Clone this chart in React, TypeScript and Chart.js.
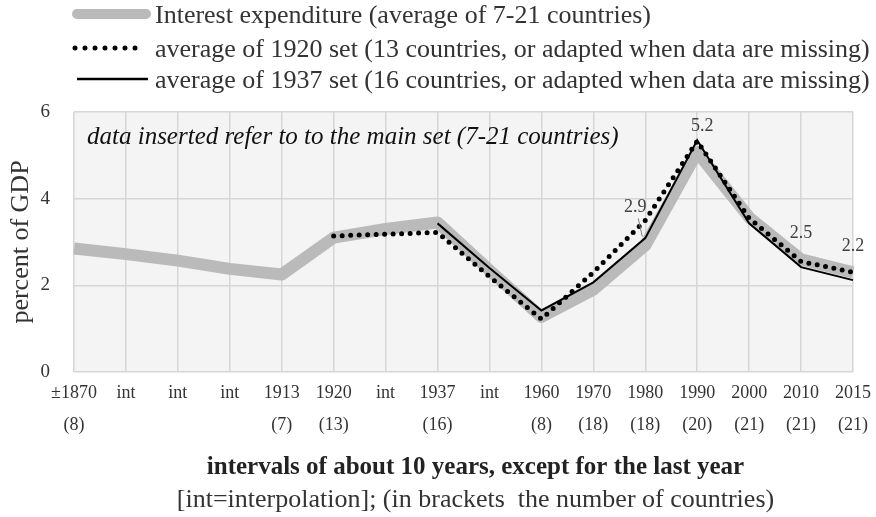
import React, { useEffect, useRef } from 'react';
import { Chart, registerables } from 'chart.js';

Chart.register(...registerables);

// ---------- data ----------
const categories = ['±1870', 'int', 'int', 'int', '1913', '1920', 'int', '1937', 'int', '1960', '1970', '1980', '1990', '2000', '2010', '2015'];
const countryCounts = ['(8)', '', '', '', '(7)', '(13)', '', '(16)', '', '(8)', '(18)', '(18)', '(20)', '(21)', '(21)', '(21)'];

const interestExpenditure = [2.85, 2.72, 2.57, 2.38, 2.25, 3.1, 3.3, 3.45, 2.35, 1.27, 1.9, 2.92, 5.07, 3.57, 2.6, 2.3];
const set1920 = [null, null, null, null, null, 3.14, 3.18, 3.22, 2.2, 1.22, 2.3, 3.5, 5.33, 3.55, 2.55, 2.3];
const set1937 = [null, null, null, null, null, null, null, 3.43, 2.4, 1.42, 2.07, 3.09, 5.35, 3.43, 2.42, 2.12];

const valueLabels: (string | null)[] = [null, null, null, null, null, null, null, null, null, null, null, '2.9', '5.2', null, '2.5', '2.2'];

const yTickValues = [0, 2, 4, 6];

const legendLabels = [
  'Interest expenditure (average of 7-21 countries)',
  'average of 1920 set (13 countries, or adapted when data are missing)',
  'average of 1937 set (16 countries, or adapted when data are missing)',
];
const subtitleText = 'data inserted refer to to the main set (7-21 countries)';
const xTitleLines = [
  'intervals of about 10 years, except for the last year',
  '[int=interpolation]; (in brackets  the number of countries)',
];
const yTitleText = 'percent of GDP';

const FONT = '"Liberation Serif", "DejaVu Serif", serif';
const TEXT = '#333333';

const decorPlugin = {
  id: 'decor',
  beforeDraw(chart: any) {
    const { ctx, chartArea } = chart;
    ctx.save();
    ctx.fillStyle = '#ffffff';
    ctx.fillRect(0, 0, chart.width, chart.height);
    ctx.fillStyle = '#f4f4f4';
    ctx.fillRect(chartArea.left, chartArea.top, chartArea.right - chartArea.left, chartArea.bottom - chartArea.top);
    ctx.restore();
  },
  beforeDatasetsDraw(chart: any) {
    const { ctx, chartArea } = chart;
    ctx.save();
    ctx.font = `italic 25px ${FONT}`;
    ctx.fillStyle = '#111111';
    ctx.textAlign = 'left';
    ctx.textBaseline = 'middle';
    ctx.fillText(subtitleText, chartArea.left + 13, chartArea.top + 25);
    ctx.restore();
  },
  afterDatasetsDraw(chart: any) {
    const { ctx } = chart;
    const meta = chart.getDatasetMeta(0);
    ctx.save();
    ctx.font = `18px ${FONT}`;
    ctx.fillStyle = '#404040';
    ctx.textAlign = 'center';
    ctx.textBaseline = 'middle';
    valueLabels.forEach((txt, i) => {
      if (!txt) return;
      const pt = meta.data[i];
      if (!pt) return;
      if (i === 11) {
        ctx.fillText(txt, pt.x - 10, pt.y - 38);
        ctx.strokeStyle = '#808080';
        ctx.lineWidth = 1;
        ctx.beginPath();
        ctx.moveTo(pt.x - 7, pt.y - 27);
        ctx.lineTo(pt.x - 3, pt.y - 9);
        ctx.stroke();
      } else {
        ctx.fillText(txt, pt.x + (i === 12 ? 5 : 0), pt.y - 26);
      }
    });
    ctx.restore();
  },
  afterDraw(chart: any) {
    const { ctx, chartArea } = chart;
    const ds = chart.data.datasets;
    ctx.save();
    // legend
    const rows = [14, 48, 79];
    const sampleStart = [77, 75, 77];
    const sampleEnd = [146, 145, 148];
    const sampleWidth = [10, 5, 2.3];
    rows.forEach((y, k) => {
      ctx.save();
      ctx.strokeStyle = ds[k].borderColor;
      ctx.lineWidth = sampleWidth[k];
      ctx.lineCap = k === 2 ? 'butt' : 'round';
      ctx.setLineDash(k === 1 ? [0, 10] : []);
      ctx.beginPath();
      ctx.moveTo(sampleStart[k], y);
      ctx.lineTo(sampleEnd[k], y);
      ctx.stroke();
      ctx.restore();
      ctx.font = `26px ${FONT}`;
      ctx.fillStyle = TEXT;
      ctx.textAlign = 'left';
      ctx.textBaseline = 'middle';
      ctx.fillText(legendLabels[k], 155, y + 2);
    });
    // x axis titles
    const cx = (chartArea.left + chartArea.right) / 2 + 12;
    ctx.textAlign = 'center';
    ctx.textBaseline = 'middle';
    ctx.fillStyle = '#222222';
    ctx.font = `bold 25px ${FONT}`;
    ctx.fillText(xTitleLines[0], cx, 468);
    ctx.font = `26px ${FONT}`;
    ctx.fillStyle = TEXT;
    ctx.fillText(xTitleLines[1], cx, 500);
    ctx.restore();
  },
};

export default function App() {
  const canvasRef = useRef<HTMLCanvasElement | null>(null);

  useEffect(() => {
    const canvas = canvasRef.current;
    if (!canvas) return;
    const chart = new Chart(canvas, {
      type: 'line',
      data: {
        labels: categories.map((c, i) => [c, countryCounts[i]]),
        datasets: [
          {
            label: legendLabels[0],
            data: interestExpenditure,
            borderColor: '#bababa',
            borderWidth: 12,
            pointRadius: 0,
            tension: 0,
            borderJoinStyle: 'round',
            order: 3,
          },
          {
            label: legendLabels[1],
            data: set1920,
            borderColor: '#000000',
            borderWidth: 5,
            borderDash: [0, 8.5],
            borderCapStyle: 'round',
            pointRadius: 0,
            tension: 0,
            order: 2,
          },
          {
            label: legendLabels[2],
            data: set1937,
            borderColor: '#000000',
            borderWidth: 2,
            pointRadius: 0,
            tension: 0,
            order: 1,
          },
        ],
      },
      options: {
        responsive: false,
        animation: false,
        devicePixelRatio: 1,
        layout: { padding: { top: 112, right: 23, left: 0, bottom: 0 } },
        plugins: {
          legend: { display: false },
          tooltip: { enabled: false },
          title: { display: false },
        },
        scales: {
          x: {
            offset: false,
            grid: { color: '#d6d6d6', lineWidth: 1.5, drawTicks: false },
            border: { display: false },
            ticks: {
              autoSkip: false,
              maxRotation: 0,
              padding: 5,
              color: TEXT,
              font: { family: FONT, size: 18, lineHeight: '32px' },
            },
            afterFit: (s: any) => { s.height = 145; },
          },
          y: {
            min: 0,
            max: 6,
            afterBuildTicks: (s: any) => { s.ticks = yTickValues.map((v) => ({ value: v })); },
            grid: { color: '#d6d6d6', lineWidth: 1.5, drawTicks: false },
            border: { display: false },
            ticks: {
              padding: 24,
              color: TEXT,
              font: { family: FONT, size: 19 },
            },
            title: {
              display: true,
              text: yTitleText,
              color: TEXT,
              font: { family: FONT, size: 26 },
              padding: { top: 6, bottom: 0 },
            },
            afterFit: (s: any) => { s.width = 74; },
          },
        },
      },
      plugins: [decorPlugin],
    });
    return () => chart.destroy();
  }, []);

  return (
    <div style={{ position: 'absolute', left: 0, top: 0, width: 876, height: 517 }}>
      <canvas ref={canvasRef} width={876} height={517} style={{ display: 'block' }} />
    </div>
  );
}
